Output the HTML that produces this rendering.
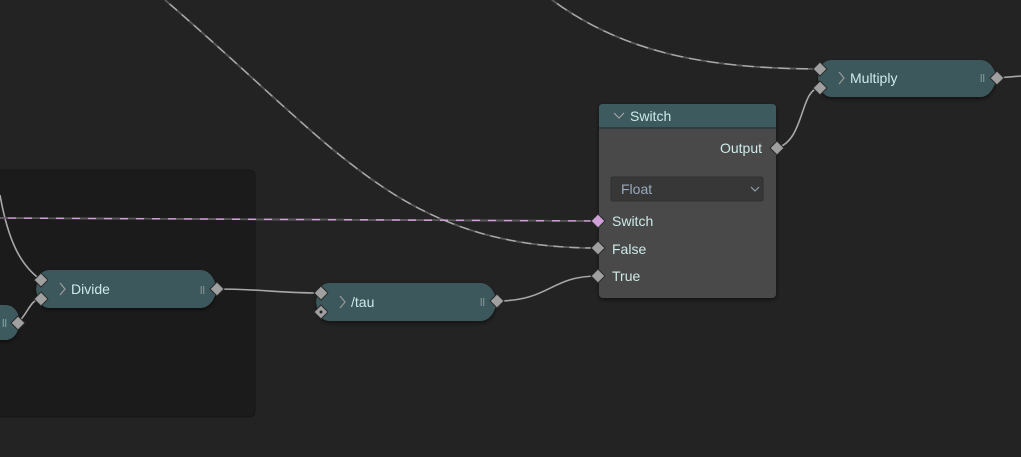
<!DOCTYPE html>
<html><head><style>
body{margin:0;width:1021px;height:457px;background:#232323;overflow:hidden;}
svg{display:block}
text{font-family:"Liberation Sans","DejaVu Sans",sans-serif;font-size:14px;fill:#cde9e9}
</style></head><body>
<svg width="1021" height="457" viewBox="0 0 1021 457">
<defs>
<filter id="sh" x="-10%" y="-20%" width="120%" height="150%"><feDropShadow dx="0" dy="2" stdDeviation="2" flood-color="#000" flood-opacity="0.5"/></filter>
</defs>
<rect x="-10" y="170" width="265" height="247" rx="5" fill="#1b1b1b" stroke="#161616"/>
<g fill="none" stroke-width="1.6">
<path d="M165 0 C 340 150, 400 248, 598 248" stroke="#a8a8a8"/>
<path d="M165 0 C 340 150, 400 248, 598 248" stroke="#555" stroke-dasharray="6 10"/>
<path d="M552 0 C 620 50, 700 69, 820 69" stroke="#a8a8a8"/>
<path d="M552 0 C 620 50, 700 69, 820 69" stroke="#555" stroke-dasharray="6 12"/>
<path d="M0 195 C 8 240, 20 265, 41 280" stroke="#a8a8a8"/>
<path d="M0 218 L 598 221" stroke="#d0a0d8"/>
<path d="M0 218 L 598 221" stroke="#555" stroke-dasharray="8 8"/>
<path d="M217 289 C 260 289, 280 293, 321 293" stroke="#a8a8a8"/>
<path d="M497 301 C 550 301, 550 276, 598 276" stroke="#a8a8a8"/>
<path d="M777 148 C 805 140, 800 88, 820 88" stroke="#a8a8a8"/>
<path d="M997 78 L 1021 76" stroke="#a8a8a8"/>
<path d="M18 323 C 30 310, 30 300, 41 299" stroke="#a8a8a8"/>
</g>
<path d="M-20 305 L5 305 Q14 305 18 314 L20 322 L18 330 Q14 340 5 340 L-20 340 Z" fill="#3e5a5e" filter="url(#sh)"/>
<text x="2" y="327" style="font-size:11px;fill:#8aa">ll</text>
<path d="M50 270 L200 270 Q208 270 213 278 L218 289 L213 300 Q208 308 200 308 L50 308 Q42 308 38 300 L36 289 L38 278 Q42 270 50 270 Z" fill="#3e585c" filter="url(#sh)"/>
<path d="M60 283 L65 289 L60 295" stroke="#999" fill="none" stroke-width="1.2"/><text x="71" y="294">Divide</text>
<text x="200" y="294" style="font-size:11px;fill:#8a9a9a">ll</text>
<path d="M330 283 L480 283 Q488 283 493 291 L498 302 L493 313 Q488 321 480 321 L330 321 Q322 321 318 313 L316 302 L318 291 Q322 283 330 283 Z" fill="#3e585c" filter="url(#sh)"/>
<path d="M340 296 L345 302 L340 308" stroke="#999" fill="none" stroke-width="1.2"/><text x="351" y="307">/tau</text>
<text x="480" y="306" style="font-size:11px;fill:#8a9a9a">ll</text>
<path d="M832 60 L980 60 Q988 60 993 68 L998 78 L993 88 Q988 97 980 97 L832 97 Q824 97 820 88 L818 78 L820 68 Q824 60 832 60 Z" fill="#3e585c" filter="url(#sh)"/>
<path d="M839 72 L844 78 L839 84" stroke="#999" fill="none" stroke-width="1.2"/><text x="850" y="83">Multiply</text>
<text x="980" y="82" style="font-size:11px;fill:#8a9a9a">ll</text>
<g filter="url(#sh)">
<rect x="599" y="104" width="177" height="194" rx="4" fill="#4a4a4a"/>
<path d="M599 128 L599 108 Q599 104 603 104 L772 104 Q776 104 776 108 L776 128 Z" fill="#3d5a5e"/>
</g>
<rect x="599" y="127" width="177" height="2" fill="#2e3e40"/>
<path d="M614 113 L619 118 L624 113" stroke="#aaa" fill="none"/>
<text x="630" y="121">Switch</text>
<text x="762" y="153" text-anchor="end">Output</text>
<rect x="611" y="177" width="152" height="24" rx="2" fill="#373737" stroke="#303030"/>
<text x="621" y="194" style="fill:#9ab">Float</text>
<path d="M751 187 L755 191 L759 187" stroke="#9ab" fill="none"/>
<text x="612" y="226">Switch</text>
<text x="612" y="254">False</text>
<text x="612" y="281">True</text>
<g fill="#a0a0a0" stroke="#2a2a2a" stroke-width="1">
<path d="M41 273 l7 7 l-7 7 l-7 -7 z"/>
<path d="M41 292 l7 7 l-7 7 l-7 -7 z"/>
<path d="M18 316 l7 7 l-7 7 l-7 -7 z"/>
<path d="M217 282 l7 7 l-7 7 l-7 -7 z"/>
<path d="M321 286 l7 7 l-7 7 l-7 -7 z"/>
<path d="M321 305 l7 7 l-7 7 l-7 -7 z"/>
<path d="M497 294 l7 7 l-7 7 l-7 -7 z"/>
<path d="M820 62 l7 7 l-7 7 l-7 -7 z"/>
<path d="M820 81 l7 7 l-7 7 l-7 -7 z"/>
<path d="M997 71 l7 7 l-7 7 l-7 -7 z"/>
<path d="M777 141 l7 7 l-7 7 l-7 -7 z"/>
<path d="M598 241 l7 7 l-7 7 l-7 -7 z"/>
<path d="M598 269 l7 7 l-7 7 l-7 -7 z"/>
<path d="M598 214 l7 7 l-7 7 l-7 -7 z" fill="#d0a0d8"/>
</g>
<circle cx="321" cy="312" r="1.5" fill="#222"/>
</svg>
</body></html>
